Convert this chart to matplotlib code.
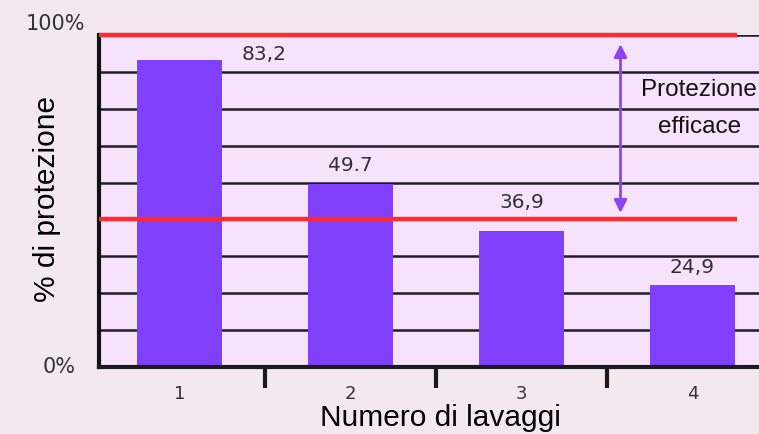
import matplotlib.pyplot as plt

# values
lavaggi = [1, 2, 3, 4]
protezione = [83.2, 49.7, 36.9, 22.3]
etichette = ["83,2", "49.7", "36,9", "24,9"]
griglia = [10, 20, 30, 50, 60, 70, 80, 90]
soglie = [40, 90]

# where each value label sits relative to its bar top (pixels)
spost = [(85, 6), (0, 18), (0, 28), (0, 17)]

plt.rcParams['font.family'] = ['Liberation Sans', 'DejaVu Sans']

fig = plt.figure(figsize=(7.59, 4.34), dpi=100)
fig.patch.set_facecolor('#f3e8f0')
ax = fig.add_axes([0.1304, 0.1544, 0.8696, 0.765])
ax.set_facecolor('#f6e2fb')

ax.set_xlim(0.53, 4.39)
ax.set_ylim(0, 90)

for g in griglia:
    ax.axhline(g, color='#1e1e24', lw=1.8, zorder=1)

ax.bar(lavaggi, protezione, width=0.5, color='#8040fb', zorder=2)

for s in soglie:
    ax.hlines(s, 0.53, 4.26, color='#ff2a30', lw=3.2, zorder=3, clip_on=False)

# value labels
for x, v, t, (dx, dy) in zip(lavaggi, protezione, etichette, spost):
    ax.annotate(t, (x, v), xytext=(dx, dy), textcoords='offset pixels',
                ha='center', va='center', fontsize=14.5, family='DejaVu Sans',
                color='#303038', zorder=4)

# double arrow for effective protection zone
ax.annotate('', xy=(3.58, 88.3), xytext=(3.58, 41.0),
            arrowprops=dict(arrowstyle='<|-|>', color='#8a45f5', lw=2,
                            mutation_scale=19), zorder=4)
ax.text(4.04, 75.1, "Protezione", ha='center', va='center',
        fontsize=17.5, color='#111111', zorder=4)
ax.text(4.04, 65.0, "efficace", ha='center', va='center',
        fontsize=17.5, color='#111111', zorder=4)

for side in ['top', 'right']:
    ax.spines[side].set_visible(False)
ax.spines['left'].set_linewidth(3)
ax.spines['left'].set_color('#111111')
ax.spines['bottom'].set_linewidth(3)
ax.spines['bottom'].set_color('#1a1a22')

ax.set_yticks([])
ax.set_xticks(lavaggi)
ax.set_xticklabels([str(x) for x in lavaggi], fontsize=13,
                   family='DejaVu Sans', color='#333333')
ax.tick_params(axis='x', which='major', length=0, pad=13)
ax.set_xticks([1.5, 2.5, 3.5], minor=True)
ax.tick_params(axis='x', which='minor', length=15, width=3, color='#1a1a1a')

ax.text(-0.021, 1.033, "100%", transform=ax.transAxes, ha='right',
        va='center', fontsize=15, family='DejaVu Sans', color='#333333')
ax.text(-0.036, 0.0, "0%", transform=ax.transAxes, ha='right',
        va='center', fontsize=15, family='DejaVu Sans', color='#333333')

ax.set_ylabel("% di protezione", fontsize=21.5, va='center')
ax.yaxis.set_label_coords(-0.079, 0.5075)
ax.set_xlabel("Numero di lavaggi", fontsize=21.5, va='baseline')
ax.xaxis.set_label_coords(0.518, -0.177)

fig.savefig("out.png", dpi=100, facecolor=fig.get_facecolor())
